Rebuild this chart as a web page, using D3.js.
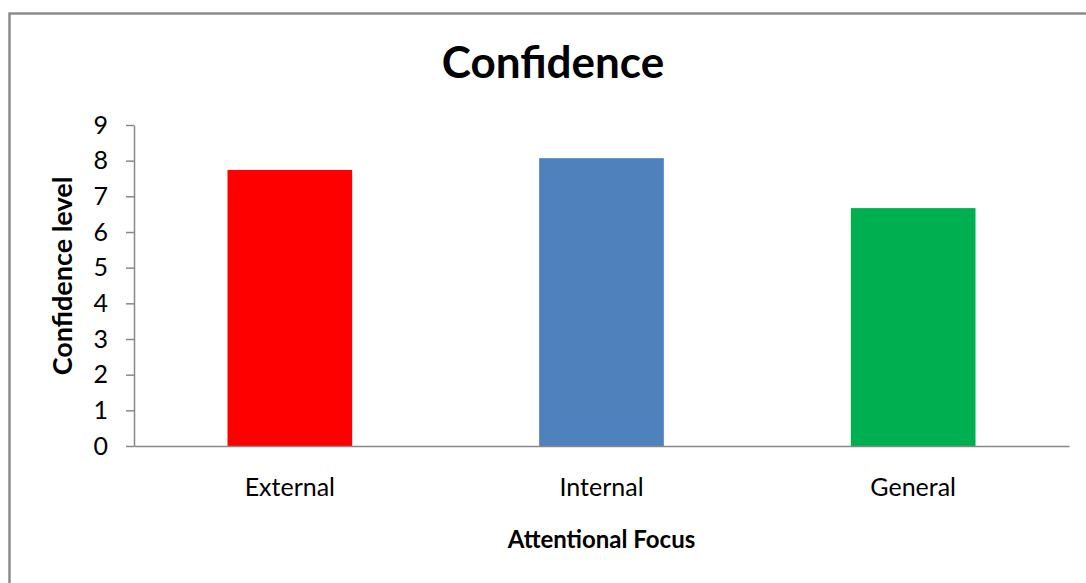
<!DOCTYPE html>
<html>
<head>
<meta charset="utf-8">
<script src="https://cdn.jsdelivr.net/npm/d3@7"></script>
<style>
  body { margin: 0; background: #fff; }
  svg { display: block; font-family: Lato, "Open Sans", sans-serif; }
</style>
</head>
<body>
<svg></svg>
<script>
const categories = ["External", "Internal", "General"];
const values = [7.74, 8.07, 6.67];
const colors = ["#FF0000", "#4F81BD", "#00B050"];
const yTicks = [0, 1, 2, 3, 4, 5, 6, 7, 8, 9];

const data = categories.map((c, i) => ({ name: c, value: values[i], color: colors[i] }));

const W = 1086, H = 583;
const plot = { left: 134, right: 1069, top: 125, bottom: 446 };

const svg = d3.select("svg")
    .attr("width", W)
    .attr("height", H);

// chart border (right and bottom edges fall outside the picture)
svg.append("rect")
    .attr("x", 9.5)
    .attr("y", 13.5)
    .attr("width", 1090)
    .attr("height", 600)
    .attr("fill", "#fff")
    .attr("stroke", "#8c8c8c")
    .attr("stroke-width", 2.5);

const x = d3.scaleBand()
    .domain(categories)
    .range([plot.left, plot.right])
    .paddingInner(0.6)
    .paddingOuter(0.3);

const y = d3.scaleLinear()
    .domain([0, 9])
    .range([plot.bottom, plot.top]);

svg.append("g")
    .selectAll("rect")
    .data(data)
    .enter().append("rect")
    .attr("x", d => x(d.name))
    .attr("y", d => y(d.value))
    .attr("width", x.bandwidth())
    .attr("height", d => plot.bottom - y(d.value))
    .attr("fill", d => d.color);

// y axis
const yAxis = svg.append("g")
    .attr("transform", `translate(${plot.left},0)`)
    .call(d3.axisLeft(y).tickValues(yTicks).tickFormat(d3.format("d")).tickSize(8).tickSizeOuter(0).tickPadding(18));
yAxis.select(".domain").attr("stroke", "#888").attr("stroke-width", 1.5);
yAxis.selectAll(".tick line").attr("stroke", "#888").attr("stroke-width", 1.5);
yAxis.selectAll(".tick text")
    .attr("fill", "#000")
    .style("font-family", "Lato, sans-serif")
    .style("font-size", "25px");

// x axis
const xAxis = svg.append("g")
    .attr("transform", `translate(0,${plot.bottom})`)
    .call(d3.axisBottom(x).tickSize(0).tickSizeOuter(0).tickPadding(32));
xAxis.select(".domain").attr("stroke", "#888").attr("stroke-width", 1.5);
xAxis.selectAll(".tick text")
    .attr("fill", "#000")
    .style("font-family", "Lato, sans-serif")
    .style("font-size", "25px");

// titles
svg.append("text")
    .attr("x", 553)
    .attr("y", 78)
    .attr("text-anchor", "middle")
    .style("font-size", "44px")
    .style("font-weight", "bold")
    .text("Confidence");

svg.append("text")
    .attr("x", (plot.left + plot.right) / 2)
    .attr("y", 548)
    .attr("text-anchor", "middle")
    .style("font-size", "24px")
    .style("font-weight", "bold")
    .text("Attentional Focus");

svg.append("text")
    .attr("transform", `translate(72,276) rotate(-90)`)
    .attr("text-anchor", "middle")
    .style("font-size", "27px")
    .style("font-weight", "bold")
    .text("Confidence level");
</script>
</body>
</html>
